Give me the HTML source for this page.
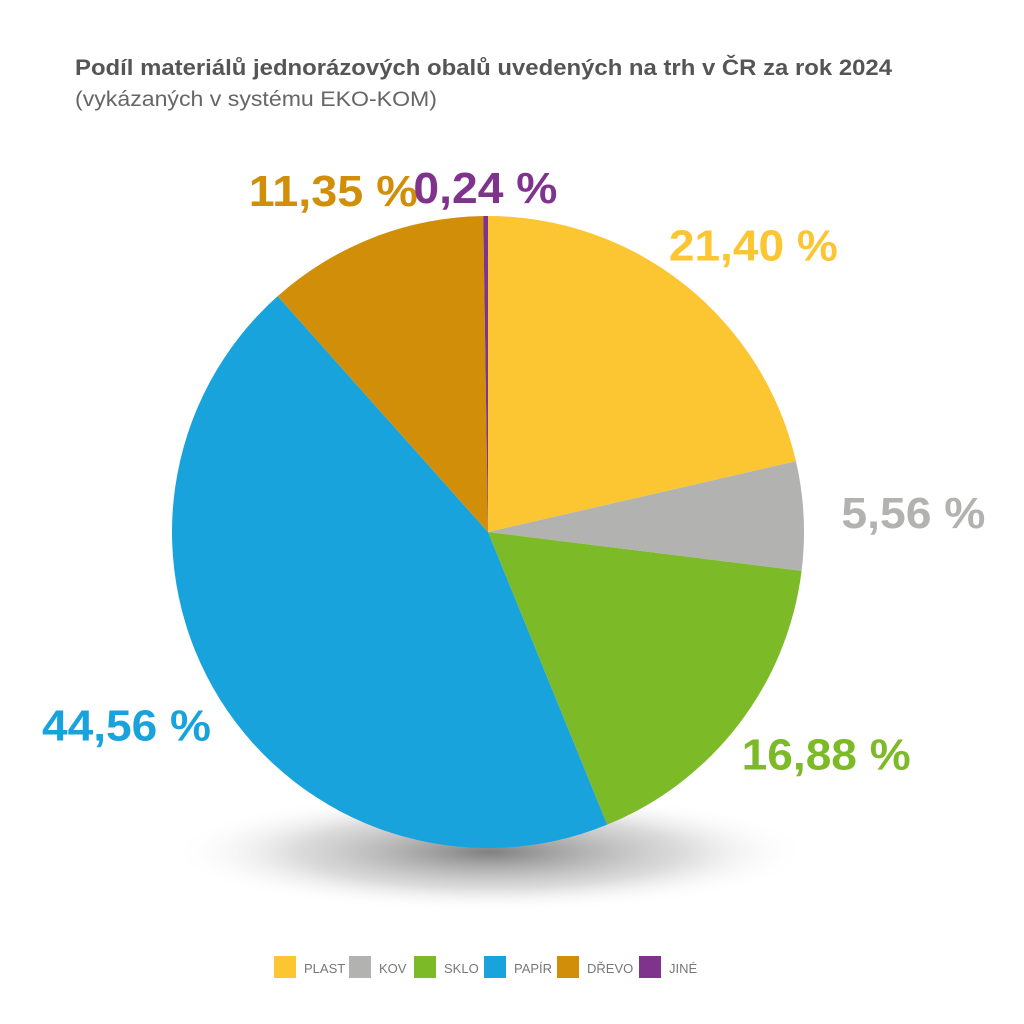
<!DOCTYPE html>
<html><head><meta charset="utf-8"><style>
html,body{margin:0;padding:0;background:#fff}
svg{display:block;font-family:"Liberation Sans",sans-serif}
</style></head><body>
<svg id="chart" width="1024" height="1024" viewBox="0 0 1024 1024">
<defs>
<radialGradient id="sh" cx="50%" cy="50%" r="50%">
<stop offset="0" stop-color="#555" stop-opacity="0.75"/>
<stop offset="0.6" stop-color="#999" stop-opacity="0.35"/>
<stop offset="1" stop-color="#fff" stop-opacity="0"/>
</radialGradient>
</defs>
<text x="75" y="75" font-size="22" font-weight="bold" fill="#555" textLength="817" lengthAdjust="spacingAndGlyphs">Podíl materiálů jednorázových obalů uvedených na trh v ČR za rok 2024</text>
<text x="75" y="106" font-size="21" fill="#666" textLength="362" lengthAdjust="spacingAndGlyphs">(vykázaných v systému EKO-KOM)</text>
<ellipse cx="490" cy="852" rx="320" ry="60" fill="url(#sh)"/>
<g id="slices"></g>
<g id="labels"></g>
<g id="legend"></g>
</svg>
<script>
const categories = ["PLAST","KOV","SKLO","PAPÍR","DŘEVO","JINÉ"];
const values = [21.40, 5.56, 16.88, 44.56, 11.35, 0.24];
const valueLabels = ["21,40 %","5,56 %","16,88 %","44,56 %","11,35 %","0,24 %"];
const colors = ["#fcc633","#b2b2b1","#7dba28","#19a3dc","#d18e09","#7f338c"];
const NS="http://www.w3.org/2000/svg";
const cx=488, cy=532, R=316;
const total=values.reduce((a,b)=>a+b,0);
const slices=document.getElementById('slices');
const labels=document.getElementById('labels');
const legend=document.getElementById('legend');
function pt(a,r){return [cx+r*Math.sin(a), cy-r*Math.cos(a)];}
let acc=0;
values.forEach((v,i)=>{
  const a0=acc/total*2*Math.PI; acc+=v; const a1=acc/total*2*Math.PI;
  const p0=pt(a0,R), p1=pt(a1,R);
  const large=(a1-a0)>Math.PI?1:0;
  const path=document.createElementNS(NS,'path');
  path.setAttribute('d',`M${cx},${cy} L${p0[0]},${p0[1]} A${R},${R} 0 ${large} 1 ${p1[0]},${p1[1]} Z`);
  path.setAttribute('fill',colors[i]);
  
  
  slices.appendChild(path);
  // label
  const am=(a0+a1)/2;
  const rr = v<1 ? R+28 : R+50;
  const lp=pt(am,rr);
  const s=Math.sin(am);
  const t=document.createElementNS(NS,'text');
  t.setAttribute('x',lp[0]+(v<1?0:s*60));
  t.setAttribute('y',lp[1]+15);
  t.setAttribute('text-anchor','middle');
  t.setAttribute('font-size','44');
  t.setAttribute('font-weight','bold');
  t.setAttribute('fill',colors[i]);
  t.setAttribute('textLength', valueLabels[i].length===6?144:169);
  t.setAttribute('lengthAdjust','spacingAndGlyphs');
  t.textContent=valueLabels[i];
  
  
  labels.appendChild(t);
});
// legend
const lx=[274,349,414,484,557,639];
categories.forEach((c,i)=>{
  const r=document.createElementNS(NS,'rect');
  r.setAttribute('x',lx[i]); r.setAttribute('y',956); r.setAttribute('width',22); r.setAttribute('height',22);
  r.setAttribute('fill',colors[i]);
  
  
  legend.appendChild(r);
  const t=document.createElementNS(NS,'text');
  t.setAttribute('x',lx[i]+30); t.setAttribute('y',973);
  t.setAttribute('font-size','13'); t.setAttribute('fill','#777');
  t.textContent=c;
  
  
  legend.appendChild(t);
});
</script>
</body></html>
